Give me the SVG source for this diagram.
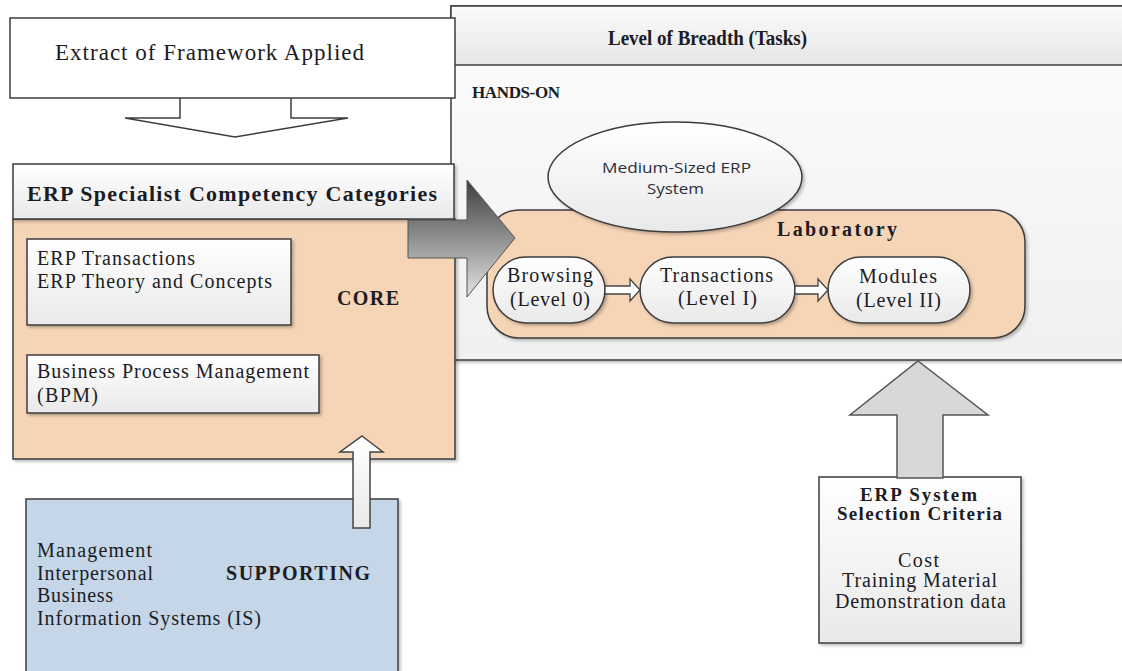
<svg xmlns="http://www.w3.org/2000/svg" width="1122" height="671" viewBox="0 0 1122 671">
<style>
.ln{stroke:#3c3c3c;stroke-width:1.5}
.t{font-family:"Liberation Serif","Times New Roman",serif;fill:#1c1c24}
.r{font-size:20px}
.b{font-size:19px;font-weight:bold}
.s{font-family:"Open Sans","Liberation Sans",sans-serif;font-size:14.5px;fill:#2e2e3a}
</style>
<defs>
<linearGradient id="gw" x1="0" y1="0" x2="0" y2="1"><stop offset="0" stop-color="#ffffff"/><stop offset="1" stop-color="#e9e9e9"/></linearGradient>
<linearGradient id="gh" x1="0" y1="0" x2="0" y2="1"><stop offset="0" stop-color="#fbfbfb"/><stop offset="1" stop-color="#e6e6e6"/></linearGradient>
<linearGradient id="gb" x1="0" y1="0" x2="0" y2="1"><stop offset="0" stop-color="#fdfdfd"/><stop offset="1" stop-color="#f0f0f0"/></linearGradient>
<linearGradient id="ga" x1="0" y1="0" x2="0" y2="1"><stop offset="0" stop-color="#3e3e3e"/><stop offset="1" stop-color="#e2e2e2"/></linearGradient>
<filter id="sh" x="-5%" y="-5%" width="115%" height="115%"><feDropShadow dx="2" dy="2" stdDeviation="1.5" flood-color="#000" flood-opacity="0.25"/></filter>
</defs>

<g id="level-of-breadth">
<rect x="451" y="6" width="680" height="354" fill="url(#gb)" class="ln" filter="url(#sh)"/>
<rect x="451" y="6" width="680" height="59" fill="url(#gh)" class="ln"/>
<text class="t b" x="608" y="45" style="font-size:20px" textLength="199" lengthAdjust="spacingAndGlyphs">Level of Breadth (Tasks)</text>
<text class="t b" x="472" y="98" style="font-size:17px" textLength="88" lengthAdjust="spacing">HANDS-ON</text>
</g>

<g id="laboratory">
<rect x="487" y="210" width="538" height="128" rx="32" fill="#f6d4b6" class="ln" filter="url(#sh)"/>
<text class="t b" x="777" y="236" style="font-size:20px" textLength="120" lengthAdjust="spacing">Laboratory</text>
</g>

<g id="medium-erp">
<ellipse cx="675" cy="177" rx="127" ry="55" fill="url(#gw)" class="ln" filter="url(#sh)"/>
<text class="s" x="602" y="173" textLength="149" lengthAdjust="spacingAndGlyphs">Medium-Sized ERP</text>
<text class="s" x="647" y="194" textLength="57" lengthAdjust="spacingAndGlyphs">System</text>
</g>

<g id="browsing">
<rect x="493" y="257" width="112" height="66" rx="33" fill="url(#gw)" class="ln" filter="url(#sh)"/>
<text class="t r" x="507" y="282" textLength="86" lengthAdjust="spacing">Browsing</text>
<text class="t r" x="510" y="306" textLength="80" lengthAdjust="spacing">(Level 0)</text>
</g>

<g id="transactions">
<rect x="640" y="257" width="155" height="66" rx="33" fill="url(#gw)" class="ln" filter="url(#sh)"/>
<text class="t r" x="660" y="282" textLength="113" lengthAdjust="spacing">Transactions</text>
<text class="t r" x="678" y="305" textLength="79" lengthAdjust="spacing">(Level I)</text>
</g>

<g id="modules">
<rect x="828" y="257" width="142" height="66" rx="33" fill="url(#gw)" class="ln" filter="url(#sh)"/>
<text class="t r" x="859" y="283" textLength="78" lengthAdjust="spacing">Modules</text>
<text class="t r" x="856" y="307" textLength="85" lengthAdjust="spacing">(Level II)</text>
</g>

<g id="extract">
<polygon points="180,90 180,118 125,118 235,137 348,118 291,118 291,90" fill="#ffffff" class="ln"/>
<rect x="10" y="18" width="445" height="80" fill="#ffffff" class="ln"/>
<text class="t" x="55" y="60" style="font-size:23px" textLength="309" lengthAdjust="spacing">Extract of Framework Applied</text>
</g>

<g id="core">
<rect x="13" y="219" width="442" height="240" fill="#f6d4b6" class="ln" filter="url(#sh)"/>
<text class="t b" x="337" y="305" style="font-size:20px" textLength="62" lengthAdjust="spacing">CORE</text>
</g>

<g id="competency-header">
<rect x="13" y="164" width="441" height="55" fill="url(#gw)" class="ln" filter="url(#sh)"/>
<text class="t b" x="27" y="201" style="font-size:22px" textLength="410" lengthAdjust="spacing">ERP Specialist Competency Categories</text>
</g>

<g id="erp-transactions">
<rect x="27" y="239" width="264" height="86" fill="url(#gw)" class="ln" filter="url(#sh)"/>
<text class="t r" x="37" y="265" textLength="158" lengthAdjust="spacing">ERP Transactions</text>
<text class="t r" x="37" y="288" textLength="235" lengthAdjust="spacing">ERP Theory and Concepts</text>
</g>

<g id="bpm">
<rect x="27" y="355" width="292" height="58" fill="url(#gw)" class="ln" filter="url(#sh)"/>
<text class="t r" x="37" y="378" textLength="272" lengthAdjust="spacing">Business Process Management</text>
<text class="t r" x="37" y="402" textLength="61" lengthAdjust="spacing">(BPM)</text>
</g>

<g id="supporting">
<rect x="26" y="499" width="372" height="190" fill="#c4d6e7" class="ln" filter="url(#sh)"/>
<text class="t r" x="37" y="557" textLength="115" lengthAdjust="spacing">Management</text>
<text class="t r" x="37" y="580" textLength="116" lengthAdjust="spacing">Interpersonal</text>
<text class="t r" x="37" y="602" textLength="76" lengthAdjust="spacing">Business</text>
<text class="t r" x="37" y="625" textLength="224" lengthAdjust="spacing">Information Systems (IS)</text>
<text class="t b" x="226" y="580" style="font-size:20px" textLength="144" lengthAdjust="spacing">SUPPORTING</text>
</g>

<g id="criteria">
<rect x="819" y="477" width="202" height="166" fill="url(#gw)" class="ln" filter="url(#sh)"/>
<text class="t b" x="860" y="501" textLength="117" lengthAdjust="spacing">ERP System</text>
<text class="t b" x="837" y="520" textLength="165" lengthAdjust="spacing">Selection Criteria</text>
<text class="t r" x="898" y="567" textLength="41" lengthAdjust="spacing">Cost</text>
<text class="t r" x="842" y="587" textLength="155" lengthAdjust="spacing">Training Material</text>
<text class="t r" x="835" y="608" textLength="171" lengthAdjust="spacing">Demonstration data</text>
</g>

<g id="connectors">
<polygon points="408,220 467,220 467,180 515,238 467,297 467,258 408,258" fill="url(#ga)" stroke="#555" stroke-width="1"/>
<polygon points="605,286 630,286 630,279 640,290 630,301 630,294 605,294" fill="#ffffff" stroke="#444" stroke-width="1.3"/>
<polygon points="795,286 818,286 818,279 828,290 818,301 818,294 795,294" fill="#ffffff" stroke="#444" stroke-width="1.3"/>
<polygon points="362,436 383,452 370,452 370,528 353,528 353,452 340,452" fill="url(#gw)" stroke="#444" stroke-width="1.5"/>
<polygon points="918,361 988,415 943,415 943,478 897,478 897,415 850,415" fill="#d8d8d8" stroke="#555" stroke-width="1.5"/>
</g>
</svg>
